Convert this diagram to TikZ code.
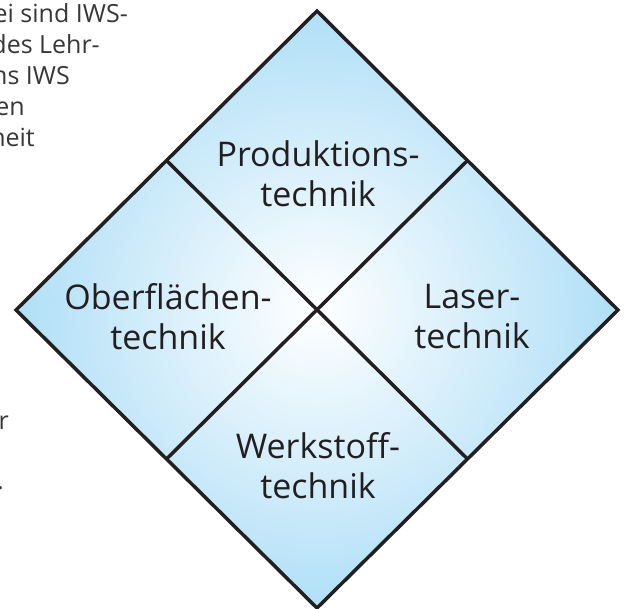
\documentclass[tikz,border=0pt]{standalone}
\usepackage{fontspec}
\setmainfont{Open Sans}
\usetikzlibrary{calc}
\definecolor{dblue}{RGB}{176,223,247}
\definecolor{ink}{RGB}{35,31,32}
\definecolor{gtext}{RGB}{55,55,55}
\begin{document}
\begin{tikzpicture}[x=1pt,y=-1pt,
  edge/.style={draw=ink,line width=3.5pt,line join=miter},
  lbl/.style={text=ink,font=\fontsize{34}{40}\selectfont,align=center,inner sep=0pt},
  side/.style={text=gtext,font=\fontsize{25}{31}\selectfont,inner sep=0pt,anchor=base east}]
\useasboundingbox (0,0) rectangle (625,609);
\begin{scope}
\clip (0,0) rectangle (625,609);
% diamond vertices
\coordinate (T) at (317,11);
\coordinate (R) at (618,310);
\coordinate (B) at (317,608);
\coordinate (L) at (16,310);
\shade[inner color=white, outer color=dblue] (T) -- (R) -- (B) -- (L) -- cycle;
\coordinate (UL) at ($(T)!0.5!(L)$);
\coordinate (UR) at ($(T)!0.5!(R)$);
\coordinate (LL) at ($(B)!0.5!(L)$);
\coordinate (LR) at ($(B)!0.5!(R)$);
\draw[edge] (UL) -- (LR);
\draw[edge] (UR) -- (LL);
\draw[edge] (T) -- (R) -- (B) -- (L) -- cycle;
% labels
\node[lbl] (prod) at (318,174) {Produktions-\\technik};
\node[lbl] (ober) at (168,317) {Oberflächen-\\technik};
\node[lbl] (laser) at (472,317) {Laser-\\technik};
\node[lbl] (werk) at (318,466) {Werkstoff-\\technik};
% cut-off text at the left
\node[side] (s1) at (128,23) {ei sind IWS-};
\node[side] (s2) at (100,54) {des Lehr-};
\node[side] (s3) at (70,85) {ns IWS};
\node[side] (s4) at (25,116) {en};
\node[side] (s5) at (35,147) {heit};
\node[side] (s6) at (9,430) {r};
\node[side] (s7) at (4,490) {.};
\end{scope}
\end{tikzpicture}
\end{document}
